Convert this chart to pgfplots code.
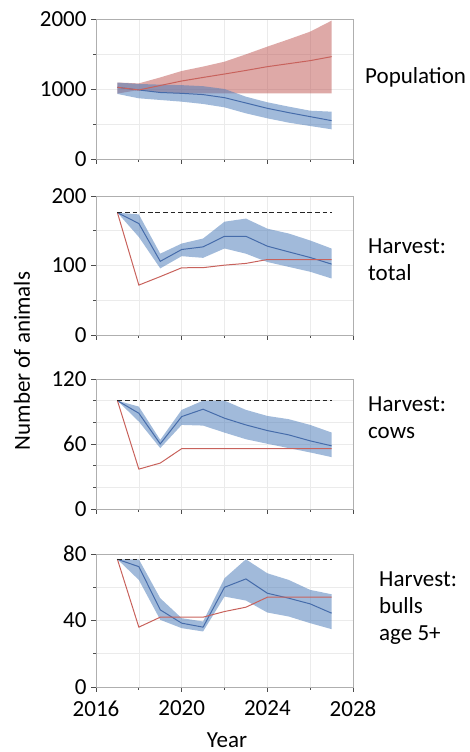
\documentclass[border=0pt]{standalone}
\usepackage{fontspec}
\setmainfont{Carlito}
\usepackage{pgfplots}
\pgfplotsset{compat=1.18}
\usepgfplotslibrary{fillbetween}
\usepackage{pgfplotstable}

\definecolor{redline}{RGB}{200,98,92}
\definecolor{redband}{RGB}{185,75,72}
\definecolor{blueline}{RGB}{70,108,170}
\definecolor{blueband}{RGB}{75,123,185}
\definecolor{gridc}{RGB}{235,235,235}
\definecolor{framec}{RGB}{175,175,175}

\pgfplotstableread{
year red redlo redhi blue bluelo bluehi
2017 1024 935 1092 1024 929 1092
2018 986 985 1080 986 867 1072
2019 1050 950 1165 950 843 1062
2020 1114 935 1257 938 819 1055
2021 1165 938 1320 920 786 1040
2022 1214 938 1390 876 738 1000
2023 1265 938 1495 800 652 890
2024 1319 938 1605 724 581 810
2025 1362 938 1710 662 519 748
2026 1405 938 1819 605 471 690
2027 1462 938 1976 548 424 676
}\poptable

\pgfplotstableread{
year red blue bluelo bluehi
2017 176 176 176 176
2018 71.8 160.4 141 173.5
2019 84 106 95.8 117
2020 96.7 123 113.4 131.6
2021 96.9 126.8 111 138.8
2022 100.5 142 124.5 163
2023 103 142 117 167.5
2024 108.6 127.8 105 153
2025 108.6 119.6 98 146
2026 108.6 111.5 91 136
2027 108.6 102 81.3 124.4
}\totaltable

\pgfplotstableread{
year red blue bluelo bluehi
2017 100 100 100 100
2018 36.8 88.4 80.7 94.5
2019 42.4 60.1 56.2 63.8
2020 55.7 85.3 77.6 91.5
2021 55.7 92.1 77 100
2022 55.7 83.8 70.5 100
2023 55.7 77.6 64.4 91.5
2024 55.7 72.4 60.2 85.9
2025 55.7 68.4 56.2 82.9
2026 55.7 62.9 52.2 77.6
2027 55.7 58.3 47.9 70.6
}\cowtable

\pgfplotstableread{
year red blue bluelo bluehi
2017 76.8 76.8 76.8 76.8
2018 36 72.4 64.4 76.8
2019 42 46.4 40.4 53.4
2020 42 38.4 35.4 41.4
2021 42 36 33.4 39.4
2022 45.4 60 54.4 65.4
2023 48 65 52 76.8
2024 54 56.4 44.8 68.4
2025 54 53.4 42.4 64.4
2026 54 50 38.4 58.4
2027 54 44.4 34.8 55.8
}\bulltable

\pgfplotsset{
  panel/.style={
    scale only axis,
    width=257pt,
    xmin=2016, xmax=2028,
    xtick={2016,2020,2024,2028},
    minor xtick={2018,2022,2026},
    grid=both,
    major grid style={draw=gridc, line width=0.5pt},
    minor grid style={draw=gridc, line width=0.5pt},
    axis line style={draw=framec, line width=0.8pt},
    tick style={draw=black!70, line width=0.8pt},
    major tick length=5pt,
    minor tick length=3pt,
    tick align=outside,
    xtick pos=lower, ytick pos=left,
    /pgf/number format/1000 sep={},
    /pgf/number format/assume math mode=true,
    tick label style={font=\fontsize{23}{23}\selectfont},
    yticklabel style={xshift=-1pt},
    xticklabel style={yshift=-5pt},
    anchor=south west,
  },
  bandred/.style={fill=redband, fill opacity=0.48, draw=none},
  bandblue/.style={fill=blueband, fill opacity=0.52, draw=none},
  lred/.style={draw=redline, line width=1pt},
  lblue/.style={draw=blueline, line width=1pt},
  ldash/.style={draw=black!85, line width=1.4pt, dash pattern=on 4.8pt off 2.8pt},
}

\begin{document}
\begin{tikzpicture}

% Panel 1: Population
\begin{axis}[panel, at={(96pt,593pt)}, height=140pt,
  ymin=0, ymax=2000, ytick={0,1000,2000}, minor ytick={500,1500},
  xticklabels={}]
\addplot[name path=rhi, draw=none] table[x=year,y=redhi] {\poptable};
\addplot[name path=rlo, draw=none] table[x=year,y=redlo] {\poptable};
\addplot[bandred] fill between[of=rhi and rlo];
\addplot[name path=bhi, draw=none] table[x=year,y=bluehi] {\poptable};
\addplot[name path=blo, draw=none] table[x=year,y=bluelo] {\poptable};
\addplot[bandblue] fill between[of=bhi and blo];
\addplot[lblue] table[x=year,y=blue] {\poptable};
\addplot[lred] table[x=year,y=red] {\poptable};
\end{axis}

% Panel 2: Harvest total
\begin{axis}[panel, at={(96pt,417pt)}, height=139pt,
  ymin=0, ymax=200, ytick={0,100,200}, minor ytick={50,150},
  xticklabels={}]
\addplot[name path=bhi, draw=none] table[x=year,y=bluehi] {\totaltable};
\addplot[name path=blo, draw=none] table[x=year,y=bluelo] {\totaltable};
\addplot[bandblue] fill between[of=bhi and blo];
\addplot[lblue] table[x=year,y=blue] {\totaltable};
\addplot[lred] table[x=year,y=red] {\totaltable};
\addplot[ldash] coordinates {(2017,176) (2027,176)};
\end{axis}

% Panel 3: Harvest cows
\begin{axis}[panel, at={(96pt,243pt)}, height=130pt,
  ymin=0, ymax=120, ytick={0,60,120}, minor ytick={20,40,80,100},
  xticklabels={}]
\addplot[name path=bhi, draw=none] table[x=year,y=bluehi] {\cowtable};
\addplot[name path=blo, draw=none] table[x=year,y=bluelo] {\cowtable};
\addplot[bandblue] fill between[of=bhi and blo];
\addplot[lblue] table[x=year,y=blue] {\cowtable};
\addplot[lred] table[x=year,y=red] {\cowtable};
\addplot[ldash] coordinates {(2017,100) (2027,100)};
\end{axis}

% Panel 4: Harvest bulls
\begin{axis}[panel, at={(96pt,65pt)}, height=133pt,
  ymin=0, ymax=80, ytick={0,40,80}, minor ytick={20,60}]
\addplot[name path=bhi, draw=none] table[x=year,y=bluehi] {\bulltable};
\addplot[name path=blo, draw=none] table[x=year,y=bluelo] {\bulltable};
\addplot[bandblue] fill between[of=bhi and blo];
\addplot[lblue] table[x=year,y=blue] {\bulltable};
\addplot[lred] table[x=year,y=red] {\bulltable};
\addplot[ldash] coordinates {(2017,76.8) (2027,76.8)};
\end{axis}

\begin{scope}[every node/.style={font=\fontsize{23}{27}\selectfont, inner sep=0pt}]
\node[anchor=west] at (365pt,675pt) {Population};
\node[anchor=west, align=left] at (368pt,492pt) {Harvest:\\total};
\node[anchor=west, align=left] at (368pt,334pt) {Harvest:\\cows};
\node[anchor=west, align=left] at (379pt,144pt) {Harvest:\\bulls\\age 5+};
\node[rotate=90] at (22pt,391pt) {Number of animals};
\node at (227pt,12pt) {Year};
\end{scope}
\path (0pt,0pt) rectangle (470pt,752pt);
\end{tikzpicture}
\end{document}
